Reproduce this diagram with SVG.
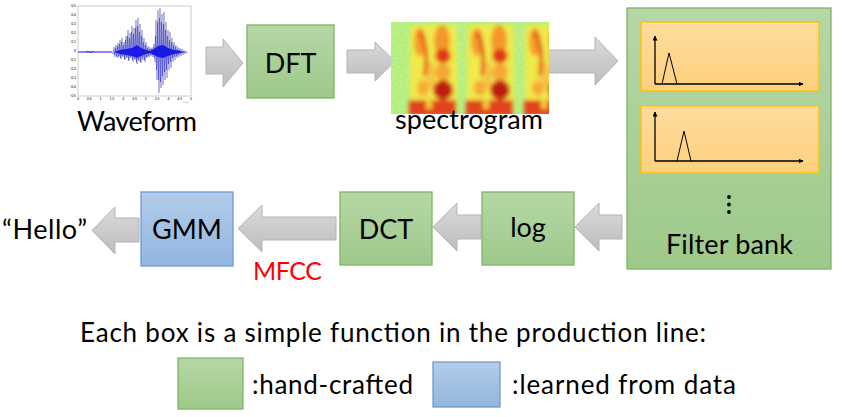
<svg xmlns="http://www.w3.org/2000/svg" width="846" height="417" viewBox="0 0 846 417">
<style>
text{font-family:Lato,"Open Sans","Liberation Sans",sans-serif;fill:#000}
.lbl{font-size:27px}
.box-g{fill:url(#gGreen);stroke:#82b366;stroke-width:1.3}
.box-b{fill:url(#gBlue);stroke:#6c9bd2;stroke-width:1.3}
.box-o{fill:url(#gOrange);stroke:#ffc000;stroke-width:1.3}
.arrow{fill:url(#gGray);stroke:#b4b4b4;stroke-width:1}
.axis{stroke:#000;stroke-width:1.3;fill:none}
.tick{font-size:3.4px;fill:#555}
</style>
<defs>
<linearGradient id="gGreen" x1="0" y1="0" x2="0" y2="1"><stop offset="0" stop-color="#b6d7a6"/><stop offset="1" stop-color="#9ec98a"/></linearGradient>
<linearGradient id="gBlue" x1="0" y1="0" x2="0" y2="1"><stop offset="0" stop-color="#b3cdea"/><stop offset="1" stop-color="#93b5df"/></linearGradient>
<linearGradient id="gOrange" x1="0" y1="0" x2="0" y2="1"><stop offset="0" stop-color="#ffdc9e"/><stop offset="1" stop-color="#fdd07c"/></linearGradient>
<linearGradient id="gGray" x1="0" y1="0" x2="0" y2="1"><stop offset="0" stop-color="#dadada"/><stop offset="1" stop-color="#bdbdbd"/></linearGradient>
<marker id="ah" viewBox="0 0 10 10" refX="9" refY="5" markerWidth="5" markerHeight="5" orient="auto" markerUnits="userSpaceOnUse"><path d="M0,0 L10,5 L0,10 z" fill="#000"/></marker>
<clipPath id="specClip"><rect x="391" y="22" width="158" height="92"/></clipPath>
<filter id="blur" filterUnits="userSpaceOnUse" x="380" y="10" width="200" height="120"><feGaussianBlur stdDeviation="2"/></filter>
<filter id="speckle" x="0" y="0" width="100%" height="100%"><feTurbulence type="fractalNoise" baseFrequency="0.45" numOctaves="2" seed="7"/><feColorMatrix type="matrix" values="0 0 0 0 0.55  0 0 0 0 0.95  0 0 0 0 0.8  3.5 0 0 0 -1.75"/></filter>
<g id="segA">
<rect x="410" y="25" width="47" height="91" rx="6" fill="#f0ea4c"/>
<ellipse cx="420" cy="42" rx="6" ry="14" fill="#f59e2c"/>
<path d="M419,32 Q429,45 425,76" stroke="#e4521a" stroke-width="4" fill="none"/>
<ellipse cx="423" cy="88" rx="6" ry="8" fill="#f6ac38"/>
<ellipse cx="431" cy="75" rx="4" ry="14" fill="#f6c246"/>
<ellipse cx="442" cy="41" rx="8" ry="16" fill="#f4962a"/>
<ellipse cx="443" cy="56" rx="8" ry="7" fill="#e03812"/>
<ellipse cx="443" cy="72" rx="8" ry="9" fill="#f5a834"/>
<ellipse cx="443" cy="90" rx="10" ry="10" fill="#c01c0a"/>
<rect x="409" y="100" width="47" height="16" fill="#e2421a"/>
<rect x="426" y="99" width="6" height="10" fill="#f3cc40"/>
</g>
</defs>

<!-- Connectors -->
<g id="connectors">
<polygon class="arrow" points="206,47 223,47 223,39 243,63 223,87 223,74 206,74"/>
<polygon class="arrow" points="347,50 375,50 375,42 395,61.5 375,81 375,73 347,73"/>
<polygon class="arrow" points="540,50 595,50 595,37 618,61 595,85 595,73 540,73"/>
<polygon class="arrow" points="622,215 599,215 599,203 575,227 599,251 599,239 622,239"/>
<polygon class="arrow" points="481,215 457,215 457,203 433,227 457,251 457,239 481,239"/>
<polygon class="arrow" points="336,217 262,217 262,205 238,228.5 262,252 262,240 336,240"/>
<polygon class="arrow" points="139,218 115,218 115,207 92,230.5 115,254 115,242 139,242"/>
</g>

<!-- Waveform -->
<g id="waveform">
<rect x="78" y="6" width="113" height="90" fill="#fff" stroke="#9a9a9a" stroke-width="0.5"/>
<g class="tick" text-anchor="end">
<text x="76" y="7.2">0.5</text><text x="76" y="16.2">0.4</text><text x="76" y="25.2">0.3</text><text x="76" y="34.2">0.2</text><text x="76" y="43.2">0.1</text><text x="76" y="52.2">0</text><text x="76" y="61.2">-0.1</text><text x="76" y="70.2">-0.2</text><text x="76" y="79.2">-0.3</text><text x="76" y="88.2">-0.4</text><text x="76" y="97.2">-0.5</text>
</g>
<g class="tick" text-anchor="middle">
<text x="78" y="100.3">0</text><text x="89.3" y="100.3">0.5</text><text x="100.6" y="100.3">1</text><text x="111.9" y="100.3">1.5</text><text x="123.2" y="100.3">2</text><text x="134.5" y="100.3">2.5</text><text x="145.8" y="100.3">3</text><text x="157.1" y="100.3">3.5</text><text x="168.4" y="100.3">4</text><text x="179.7" y="100.3">4.5</text><text x="191" y="100.3">5</text>
</g>
<text class="tick" x="182.4" y="103" style="font-size:2.5px">x 10⁴</text>
<path d="M78,52 L112,52" stroke="#1010e0" stroke-width="1"/>
<path d="M86,52 L88,51 L90,53 L92,51.5 L94,52" stroke="#1010e0" stroke-width="0.6" fill="none"/>
<path d="M112,52 L113,54 L114,47 L115,57 L116,45 L117,58 L118,43 L119,56 L120,40 L121,59 L122,38 L123,57 L124,42 L125,60 L126,36 L127,58 L128,30 L129,61 L130,33 L131,58 L132,26 L133,62 L134,28 L135,60 L136,20 L137,64 L138,18 L139,61 L140,24 L141,63 L142,30 L143,60 L144,38 L145,62 L146,42 L147,58 L148,46 L149,57 L150,47 L151,56 L152,48 L153,57 L154,44 L155,62 L156,20 L157,80 L158,10 L159,93 L160,8 L161,88 L162,14 L163,85 L164,12 L165,80 L166,22 L167,78 L168,30 L169,70 L170,32 L171,68 L172,38 L173,62 L174,42 L175,60 L176,45 L177,58 L178,47 L179,57 L180,48 L181,56 L182,49 L183,55 L184,50 L185,54 L186,51 L187,53 L188,52" stroke="#5a5ab8" stroke-width="0.5" fill="none"/>
<path d="M113.5,50 L114.5,55 L115.5,48 L116.5,56 L117.5,46 L118.5,57 L119.5,44 L120.5,58 L121.5,42 L122.5,56 L123.5,45 L124.5,59 L125.5,40 L126.5,57 L127.5,36 L128.5,60 L129.5,38 L130.5,57 L131.5,32 L132.5,60 L133.5,34 L134.5,59 L135.5,28 L136.5,62 L137.5,26 L138.5,60 L139.5,32 L140.5,62 L141.5,36 L142.5,58 L143.5,42 L144.5,60 L145.5,45 L146.5,57 L147.5,48 L148.5,56 L149.5,49 L150.5,55 L151.5,49 L152.5,55 L153.5,47 L154.5,58 L155.5,36 L156.5,70 L157.5,22 L158.5,80 L159.5,18 L160.5,82 L161.5,22 L162.5,76 L163.5,24 L164.5,72 L165.5,30 L166.5,70 L167.5,36 L168.5,64 L169.5,40 L170.5,62 L171.5,42 L172.5,58 L173.5,45 L174.5,57 L175.5,47 L176.5,56 L177.5,49 L178.5,55 L179.5,50 L180.5,54" stroke="#3030d0" stroke-width="0.5" fill="none"/>
<path d="M114,52 L120,50 L126,49 L132,48 L137,45 L141,48 L146,50 L150,51 L154,49 L158,46 L163,45 L168,48 L174,50 L180,51 L186,52 L180,53 L174,54 L168,56 L163,58 L158,57 L154,55 L150,53 L146,54 L141,56 L137,58 L132,56 L126,55 L120,54 Z" fill="#1a1ae6"/>
</g>
<text class="lbl" x="137" y="131" text-anchor="middle" textLength="120">Waveform</text>

<!-- DFT -->
<g id="dft">
<rect class="box-g" x="247" y="25" width="87" height="73"/>
<text class="lbl" x="290.5" y="73" text-anchor="middle">DFT</text>
</g>

<!-- Spectrogram -->
<g id="spectrogram">
<g clip-path="url(#specClip)">
<rect x="391" y="22" width="158" height="92" fill="#b6ee78"/>
<rect x="391" y="22" width="158" height="92" filter="url(#speckle)" opacity="0.6"/>
<g filter="url(#blur)">
<use href="#segA"/>
<use href="#segA" transform="translate(57,0)"/>
<use href="#segA" transform="translate(115,0)"/>
</g>
</g>
<text class="lbl" x="469" y="129" text-anchor="middle" textLength="148">spectrogram</text>
</g>

<!-- Filter bank -->
<g id="filterbank">
<rect class="box-g" x="627" y="8" width="204" height="261"/>
<rect class="box-o" x="641" y="22" width="178" height="69"/>
<rect class="box-o" x="641" y="106" width="178" height="67"/>
<polyline class="axis" points="655,84 655,36" marker-end="url(#ah)"/>
<polyline class="axis" points="655,84 803,84" marker-end="url(#ah)"/>
<polyline points="662,84 669,53 677,84" fill="none" stroke="#000" stroke-width="1"/>
<polyline class="axis" points="655,161 655,112" marker-end="url(#ah)"/>
<polyline class="axis" points="655,161 803,161" marker-end="url(#ah)"/>
<polyline points="677,161 684,131 691,161" fill="none" stroke="#000" stroke-width="1"/>
<circle cx="729" cy="197" r="1.9"/>
<circle cx="729" cy="204.5" r="1.9"/>
<circle cx="729" cy="212" r="1.9"/>
<text class="lbl" x="729.5" y="254" text-anchor="middle" textLength="127">Filter bank</text>
</g>

<!-- log -->
<g id="log">
<rect class="box-g" x="482" y="192" width="92" height="73"/>
<text class="lbl" x="528" y="237" text-anchor="middle">log</text>
</g>

<!-- DCT -->
<g id="dct">
<rect class="box-g" x="340" y="192" width="92" height="73"/>
<text class="lbl" x="386" y="239" text-anchor="middle">DCT</text>
</g>

<!-- GMM -->
<g id="gmm">
<rect class="box-b" x="141" y="192" width="92" height="74"/>
<text class="lbl" x="187" y="239" text-anchor="middle">GMM</text>
</g>

<text class="lbl" x="2" y="239" textLength="85">“Hello”</text>
<text x="253" y="280" style="font-size:25px;fill:#ff0000" textLength="69">MFCC</text>

<!-- Legend -->
<text x="80" y="342" style="font-size:26px" textLength="626">Each box is a simple function in the production line:</text>
<g id="legend-hand">
<rect class="box-g" x="178" y="358" width="65" height="51"/>
<text x="252" y="394" style="font-size:26px" textLength="161">:hand-crafted</text>
</g>
<g id="legend-learned">
<rect class="box-b" x="433" y="362" width="67" height="45"/>
<text x="512" y="394" style="font-size:26px" textLength="224">:learned from data</text>
</g>
</svg>
